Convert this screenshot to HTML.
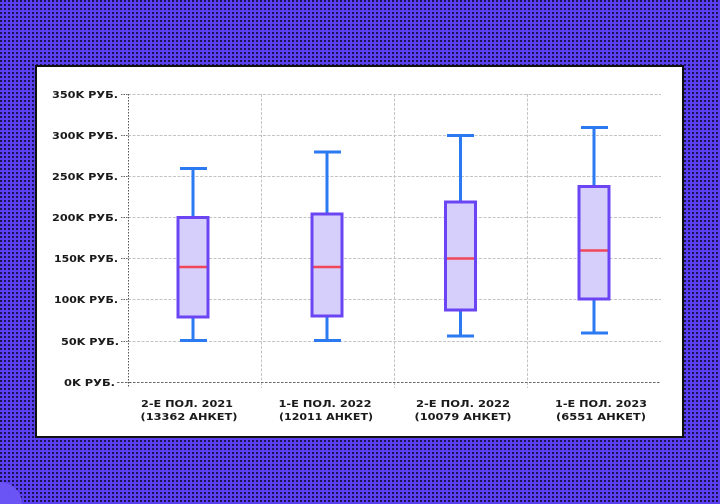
<!DOCTYPE html>
<html>
<head>
<meta charset="utf-8">
<style>
html,body{margin:0;padding:0;}
body{
  width:720px;height:504px;overflow:hidden;position:relative;
  background-color:#5a40ee;
  background-image:conic-gradient(at 50% 50%, transparent 75%, #1c1258 0);
  background-size:4px 4px;
}
svg{position:absolute;left:0;top:0;}
text{font-family:"DejaVu Sans","Liberation Sans",sans-serif;font-weight:bold;font-size:10px;fill:#1a1a1a;}
</style>
</head>
<body>
<svg width="720" height="504" viewBox="0 0 720 504" xmlns="http://www.w3.org/2000/svg">
  <!-- lighter blob bottom-left -->
  <circle cx="0" cy="504" r="22" fill="#6a54f6"/>
  <!-- panel -->
  <rect x="36" y="66" width="647" height="371" fill="#ffffff" stroke="#111111" stroke-width="2"/>

  <!-- horizontal gridlines -->
  <g stroke="#c4c4c4" stroke-width="1" stroke-dasharray="3 1.5" fill="none">
    <line x1="128" y1="94.5" x2="661" y2="94.5"/>
    <line x1="128" y1="135.5" x2="661" y2="135.5"/>
    <line x1="128" y1="176.5" x2="661" y2="176.5"/>
    <line x1="128" y1="217.5" x2="661" y2="217.5"/>
    <line x1="128" y1="258.5" x2="661" y2="258.5"/>
    <line x1="128" y1="299.5" x2="661" y2="299.5"/>
    <line x1="128" y1="341.5" x2="661" y2="341.5"/>
  </g>
  <!-- vertical gridlines -->
  <g stroke="#c4c4c4" stroke-width="1" stroke-dasharray="3 1.5" fill="none">
    <line x1="261.5" y1="94" x2="261.5" y2="388"/>
    <line x1="394.5" y1="94" x2="394.5" y2="388"/>
    <line x1="527.5" y1="94" x2="527.5" y2="388"/>
  </g>
  <!-- axes -->
  <line x1="117" y1="382.5" x2="661" y2="382.5" stroke="#666" stroke-width="1" stroke-dasharray="2.5 1.5"/>
  <line x1="128.5" y1="94" x2="128.5" y2="388" stroke="#555" stroke-width="1" stroke-dasharray="1.5 1.5"/>
  <!-- y ticks -->
  <g stroke="#666" stroke-width="1" stroke-dasharray="1.5 1">
    <line x1="121" y1="94.5" x2="128" y2="94.5"/>
    <line x1="121" y1="135.5" x2="128" y2="135.5"/>
    <line x1="121" y1="176.5" x2="128" y2="176.5"/>
    <line x1="121" y1="217.5" x2="128" y2="217.5"/>
    <line x1="121" y1="258.5" x2="128" y2="258.5"/>
    <line x1="121" y1="299.5" x2="128" y2="299.5"/>
    <line x1="121" y1="341.5" x2="128" y2="341.5"/>
  </g>

  <!-- y labels -->
  <g text-anchor="end">
    <text x="118" y="98" textLength="66" lengthAdjust="spacingAndGlyphs">350K РУБ.</text>
    <text x="118" y="139" textLength="66" lengthAdjust="spacingAndGlyphs">300K РУБ.</text>
    <text x="118" y="180" textLength="66" lengthAdjust="spacingAndGlyphs">250K РУБ.</text>
    <text x="118" y="221" textLength="66" lengthAdjust="spacingAndGlyphs">200K РУБ.</text>
    <text x="118" y="262" textLength="64" lengthAdjust="spacingAndGlyphs">150K РУБ.</text>
    <text x="118" y="303" textLength="64" lengthAdjust="spacingAndGlyphs">100K РУБ.</text>
    <text x="119" y="345" textLength="58" lengthAdjust="spacingAndGlyphs">50K РУБ.</text>
    <text x="115" y="386" textLength="51" lengthAdjust="spacingAndGlyphs">0K РУБ.</text>
  </g>

  <!-- x labels -->
  <g text-anchor="middle">
    <text x="187" y="407" textLength="92" lengthAdjust="spacingAndGlyphs">2-Е ПОЛ. 2021</text>
    <text x="189" y="420" textLength="97" lengthAdjust="spacingAndGlyphs">(13362 АНКЕТ)</text>
    <text x="325" y="407" textLength="93" lengthAdjust="spacingAndGlyphs">1-Е ПОЛ. 2022</text>
    <text x="326" y="420" textLength="94" lengthAdjust="spacingAndGlyphs">(12011 АНКЕТ)</text>
    <text x="463" y="407" textLength="94" lengthAdjust="spacingAndGlyphs">2-Е ПОЛ. 2022</text>
    <text x="463" y="420" textLength="97" lengthAdjust="spacingAndGlyphs">(10079 АНКЕТ)</text>
    <text x="601" y="407" textLength="92" lengthAdjust="spacingAndGlyphs">1-Е ПОЛ. 2023</text>
    <text x="601" y="420" textLength="90" lengthAdjust="spacingAndGlyphs">(6551 АНКЕТ)</text>
  </g>

  <!-- boxes -->
  <!-- box 1 center 193 -->
  <g>
    <line x1="193" y1="168.5" x2="193" y2="217" stroke="#2b7af2" stroke-width="3"/>
    <line x1="193" y1="317" x2="193" y2="340.5" stroke="#2b7af2" stroke-width="3"/>
    <line x1="180" y1="168.5" x2="207" y2="168.5" stroke="#2b7af2" stroke-width="3"/>
    <line x1="180" y1="340.5" x2="207" y2="340.5" stroke="#2b7af2" stroke-width="3"/>
    <rect x="178" y="217.5" width="30" height="99.5" fill="#d6cefb" stroke="#6b45f4" stroke-width="3"/>
    <line x1="179.5" y1="267" x2="206.5" y2="267" stroke="#f2475a" stroke-width="2.5"/>
  </g>
  <!-- box 2 center 327 -->
  <g>
    <line x1="327" y1="152" x2="327" y2="214" stroke="#2b7af2" stroke-width="3"/>
    <line x1="327" y1="316" x2="327" y2="340.5" stroke="#2b7af2" stroke-width="3"/>
    <line x1="314" y1="152" x2="341" y2="152" stroke="#2b7af2" stroke-width="3"/>
    <line x1="314" y1="340.5" x2="341" y2="340.5" stroke="#2b7af2" stroke-width="3"/>
    <rect x="312" y="214" width="30" height="102" fill="#d6cefb" stroke="#6b45f4" stroke-width="3"/>
    <line x1="313.5" y1="267" x2="340.5" y2="267" stroke="#f2475a" stroke-width="2.5"/>
  </g>
  <!-- box 3 center 460.5 -->
  <g>
    <line x1="460.5" y1="135.5" x2="460.5" y2="202" stroke="#2b7af2" stroke-width="3"/>
    <line x1="460.5" y1="310" x2="460.5" y2="336" stroke="#2b7af2" stroke-width="3"/>
    <line x1="447" y1="135.5" x2="474" y2="135.5" stroke="#2b7af2" stroke-width="3"/>
    <line x1="447" y1="336" x2="474" y2="336" stroke="#2b7af2" stroke-width="3"/>
    <rect x="445.5" y="202" width="30" height="108" fill="#d6cefb" stroke="#6b45f4" stroke-width="3"/>
    <line x1="447" y1="258.5" x2="474" y2="258.5" stroke="#f2475a" stroke-width="2.5"/>
  </g>
  <!-- box 4 center 594 -->
  <g>
    <line x1="594" y1="127.5" x2="594" y2="186.5" stroke="#2b7af2" stroke-width="3"/>
    <line x1="594" y1="299" x2="594" y2="333" stroke="#2b7af2" stroke-width="3"/>
    <line x1="581" y1="127.5" x2="608" y2="127.5" stroke="#2b7af2" stroke-width="3"/>
    <line x1="581" y1="333" x2="608" y2="333" stroke="#2b7af2" stroke-width="3"/>
    <rect x="579" y="186.5" width="30" height="112.5" fill="#d6cefb" stroke="#6b45f4" stroke-width="3"/>
    <line x1="580.5" y1="250.5" x2="607.5" y2="250.5" stroke="#f2475a" stroke-width="2.5"/>
  </g>
</svg>
</body>
</html>
